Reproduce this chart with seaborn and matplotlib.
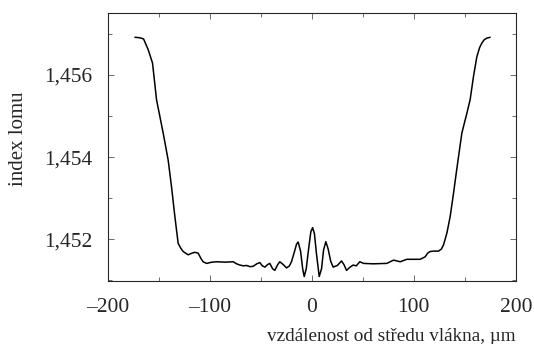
import pandas as pd
import matplotlib
matplotlib.use("Agg")
import matplotlib.pyplot as plt
import seaborn as sns
from matplotlib.ticker import MultipleLocator, FuncFormatter

# values
distance = [-173.5, -169, -165, -160.5, -156.2, -152.3, -145.8, -140.9, -137.6, -134.3,
            -131.1, -128.5, -126.2, -121.3, -117.5, -114.7, -111.5, -108.5, -106.6, -103.2,
            -98, -93.4, -85, -77.2, -73.8, -70.6, -67, -64.1, -60.5, -57.5, -54, -51,
            -48.5, -46, -43.5, -41.2, -38.5, -36.3, -33.5, -31.4, -28, -24.8,
            -22, -20, -17, -15, -13.4, -11, -9, -7.5, -5.5, -3, -1, 0.7, 2.5, 4.5,
            7.2, 9.5, 11.5, 13.7, 16, 18.5, 20.9, 25, 29.1, 31.5, 34, 37.5, 40.5,
            43.5, 47, 50.7, 60, 73.5, 80.1, 86.6, 93.1, 100, 106.2, 111.1, 113.5, 116,
            120, 124.2, 127, 129.1, 132.4, 135.6, 138.9, 141.5, 143.8, 147.1, 152,
            155.2, 158.5, 161.8, 164.5, 166.7, 169, 171.6, 174.8]
index_val = [1.45692, 1.45691, 1.45688, 1.45662, 1.45629, 1.45540, 1.45459, 1.45393, 1.45328, 1.45255,
             1.45190, 1.45178, 1.45170, 1.45162, 1.45166, 1.45168, 1.45166, 1.45152, 1.45145, 1.45141,
             1.45144, 1.45145, 1.45144, 1.45145, 1.45140, 1.45137, 1.45135, 1.45136, 1.45133, 1.45134, 1.45140, 1.45143,
             1.45135, 1.45132, 1.45138, 1.45141, 1.45128, 1.45124, 1.45138, 1.45145, 1.45138, 1.45130,
             1.45135, 1.45145, 1.45170, 1.45188, 1.45193, 1.45170, 1.45128, 1.45109, 1.45128, 1.45180, 1.45218, 1.45228, 1.45214, 1.45165,
             1.45109, 1.45128, 1.45174, 1.45194, 1.45176, 1.45146, 1.45132, 1.45136, 1.45147, 1.45138, 1.45124, 1.45132, 1.45137,
             1.45135, 1.45145, 1.45141, 1.45140, 1.45141, 1.45149, 1.45145, 1.45151, 1.45151, 1.45151, 1.45157, 1.45166, 1.45170,
             1.45171, 1.45171, 1.45176, 1.45186, 1.45215, 1.45255, 1.45312, 1.45360, 1.45401, 1.45459, 1.45507,
             1.45540, 1.45597, 1.45645, 1.45667, 1.45678, 1.45686, 1.45690, 1.45692]

df = pd.DataFrame({"x": distance, "n": index_val})

sns.set_style("ticks")
plt.rcParams["font.family"] = ["Liberation Serif", "DejaVu Serif"]

fig, ax = plt.subplots(figsize=(5.34, 3.44), dpi=100)
fig.subplots_adjust(left=0.202, right=0.966, top=0.962, bottom=0.183)

sns.lineplot(data=df, x="x", y="n", ax=ax, color="black", linewidth=1.1, sort=False)

ax.set_xlim(-200, 200)
ax.set_ylim(1.45098, 1.45751)
ax.xaxis.set_major_locator(MultipleLocator(100))
ax.xaxis.set_minor_locator(MultipleLocator(50))
ax.yaxis.set_major_locator(MultipleLocator(0.002))
ax.yaxis.set_minor_locator(MultipleLocator(0.001))
ax.yaxis.set_major_formatter(FuncFormatter(lambda v, p: f"{v:.3f}".replace(".", ",")))
ax.xaxis.set_major_formatter(FuncFormatter(lambda v, p: f"{v:.0f}".replace("-", "\u2013")))

ax.tick_params(which="both", direction="in", top=True, right=True, width=0.6, color="#555555")
ax.tick_params(which="major", length=4, labelsize=15.5)
ax.tick_params(which="minor", length=3)
ax.tick_params(axis="x", which="major", pad=12)
ax.tick_params(axis="y", which="major", pad=11)
for s in ax.spines.values():
    s.set_linewidth(0.8)

ax.set_xlabel("vzdálenost od středu vlákna, µm", fontsize=13.8, loc="right", labelpad=8)
ax.set_ylabel("index lomu", fontsize=15, labelpad=8)
ax.yaxis.set_label_coords(-0.195, 0.53)

fig.savefig("out.png", dpi=100)
